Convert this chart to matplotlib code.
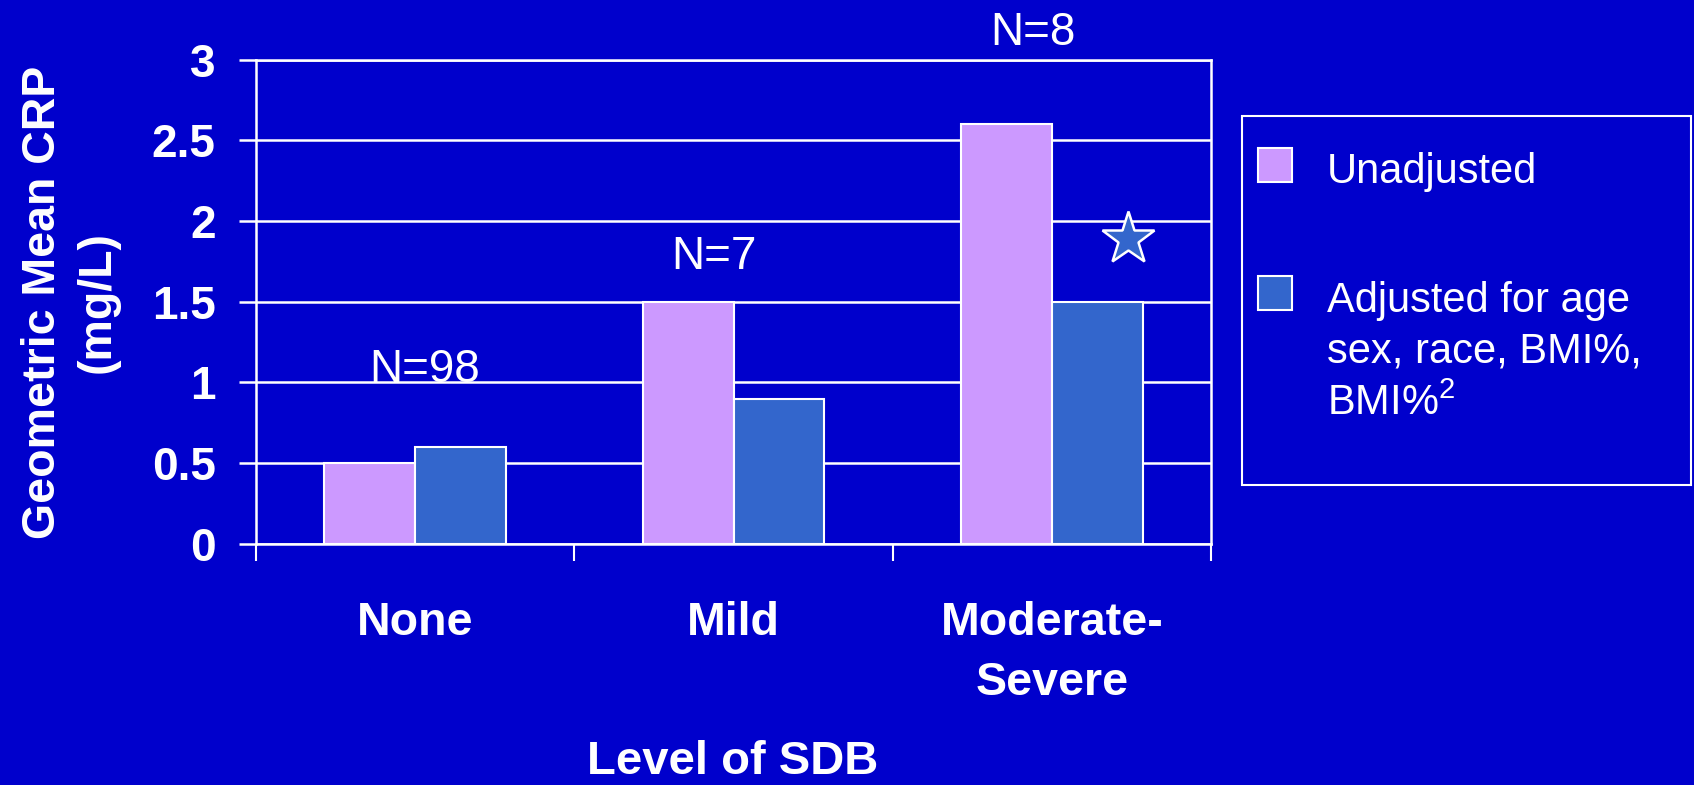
import matplotlib
matplotlib.use("Agg")
import matplotlib.pyplot as plt
from matplotlib.patches import Rectangle
import numpy as np

plt.rcParams['font.family'] = ['Liberation Sans', 'DejaVu Sans']
plt.rcParams['mathtext.fontset'] = 'custom'
plt.rcParams['mathtext.rm'] = 'Liberation Sans'

# ---- data ----
categories = ["None", "Mild", "Moderate-\nSevere"]
unadjusted = [0.5, 1.5, 2.6]
adjusted = [0.6, 0.9, 1.5]
series_names = ["Unadjusted", "Adjusted for age\nsex, race, BMI%,\nBMI%$^{2}$"]
n_labels = ["N=98", "N=7", "N=8"]
n_label_x = [0.03, 0.94, 1.94]
n_label_y = [1.0, 1.70, 3.09]
star_x = [2.24]
star_y = [1.89]
yticks = [0, 0.5, 1, 1.5, 2, 2.5, 3]
ytick_labels = ["0", "0.5", "1", "1.5", "2", "2.5", "3"]
ylabel = "Geometric Mean CRP\n(mg/L)"
xlabel = "Level of SDB"

BG = "#0000CC"
C_UN = "#CC99FF"
C_AD = "#3366CC"
W, H = 1694, 785

fig = plt.figure(figsize=(W / 100, H / 100), dpi=100, facecolor=BG)

def fx(px):
    return px / W

def fy(py):
    return 1 - py / H

ax_l, ax_r, ax_t, ax_b = 256, 1211, 59.8, 543.7
ax = fig.add_axes([fx(ax_l), fy(ax_b), fx(ax_r - ax_l), (ax_b - ax_t) / H])
ax.set_facecolor(BG)

x = np.arange(len(categories))
bw = 0.285
ax.bar(x - bw / 2, unadjusted, bw, color=C_UN, edgecolor="white", linewidth=1.5, zorder=3)
ax.bar(x + bw / 2, adjusted, bw, color=C_AD, edgecolor="white", linewidth=1.5, zorder=3)

ax.set_xlim(-0.5, 2.5)
ax.set_ylim(0, 3)
ax.set_yticks(yticks)
ax.set_yticklabels(ytick_labels, fontsize=33, fontweight="bold", color="white")
ax.yaxis.grid(True, color="white", linewidth=1.8, zorder=0)
ax.set_axisbelow(True)
ax.tick_params(axis="y", length=12, width=1.8, color="white", pad=17)

ax.set_xticks([-0.5, 0.5, 1.5, 2.5])
ax.set_xticklabels([])
ax.tick_params(axis="x", which="major", length=12, width=1.5, color="white")
ax.set_xticks(x, minor=True)
ax.set_xticklabels(categories, minor=True, fontsize=33.5, fontweight="bold", color="white")
ax.tick_params(axis="x", which="minor", length=0, pad=41)
for t in ax.get_xticklabels(minor=True):
    t.set_linespacing(1.47)

for s in ax.spines.values():
    s.set_color("white")
    s.set_linewidth(1.8)

for lab, lx, ly in zip(n_labels, n_label_x, n_label_y):
    ax.text(lx, ly, lab, ha="center", va="baseline", fontsize=33, color="white", clip_on=False)

ax.plot(star_x, star_y, marker="*", markersize=40, markerfacecolor=C_AD,
        markeredgecolor="white", markeredgewidth=1.8, linestyle="none", clip_on=False, zorder=5)

fig.text(fx(70), fy(302), ylabel, rotation=90, ha="center", va="center",
         fontsize=33.5, fontweight="bold", color="white", linespacing=1.32, multialignment="center")
fig.text(fx(733), fy(774), xlabel, ha="center", va="baseline",
         fontsize=34, fontweight="bold", color="white")

# legend
fig.patches.append(Rectangle((fx(1242), fy(485)), fx(1691 - 1242), (485 - 116) / H,
                             transform=fig.transFigure, facecolor="none",
                             edgecolor="white", linewidth=1.5))
patch_tops = [148, 276]
colors = [C_UN, C_AD]
for pt, c in zip(patch_tops, colors):
    fig.patches.append(Rectangle((fx(1258), fy(pt + 34)), fx(34), 34 / H,
                                 transform=fig.transFigure, facecolor=c,
                                 edgecolor="white", linewidth=1.5))
fig.text(fx(1327), fy(183), series_names[0], ha="left", va="baseline", fontsize=30, color="white")
lines = series_names[1].split("\n")
for line, base in zip(lines, [312, 363, 415]):
    fig.text(fx(1327), fy(base), line, ha="left", va="baseline", fontsize=30, color="white")

fig.savefig("out.png", dpi=100, facecolor=BG)
